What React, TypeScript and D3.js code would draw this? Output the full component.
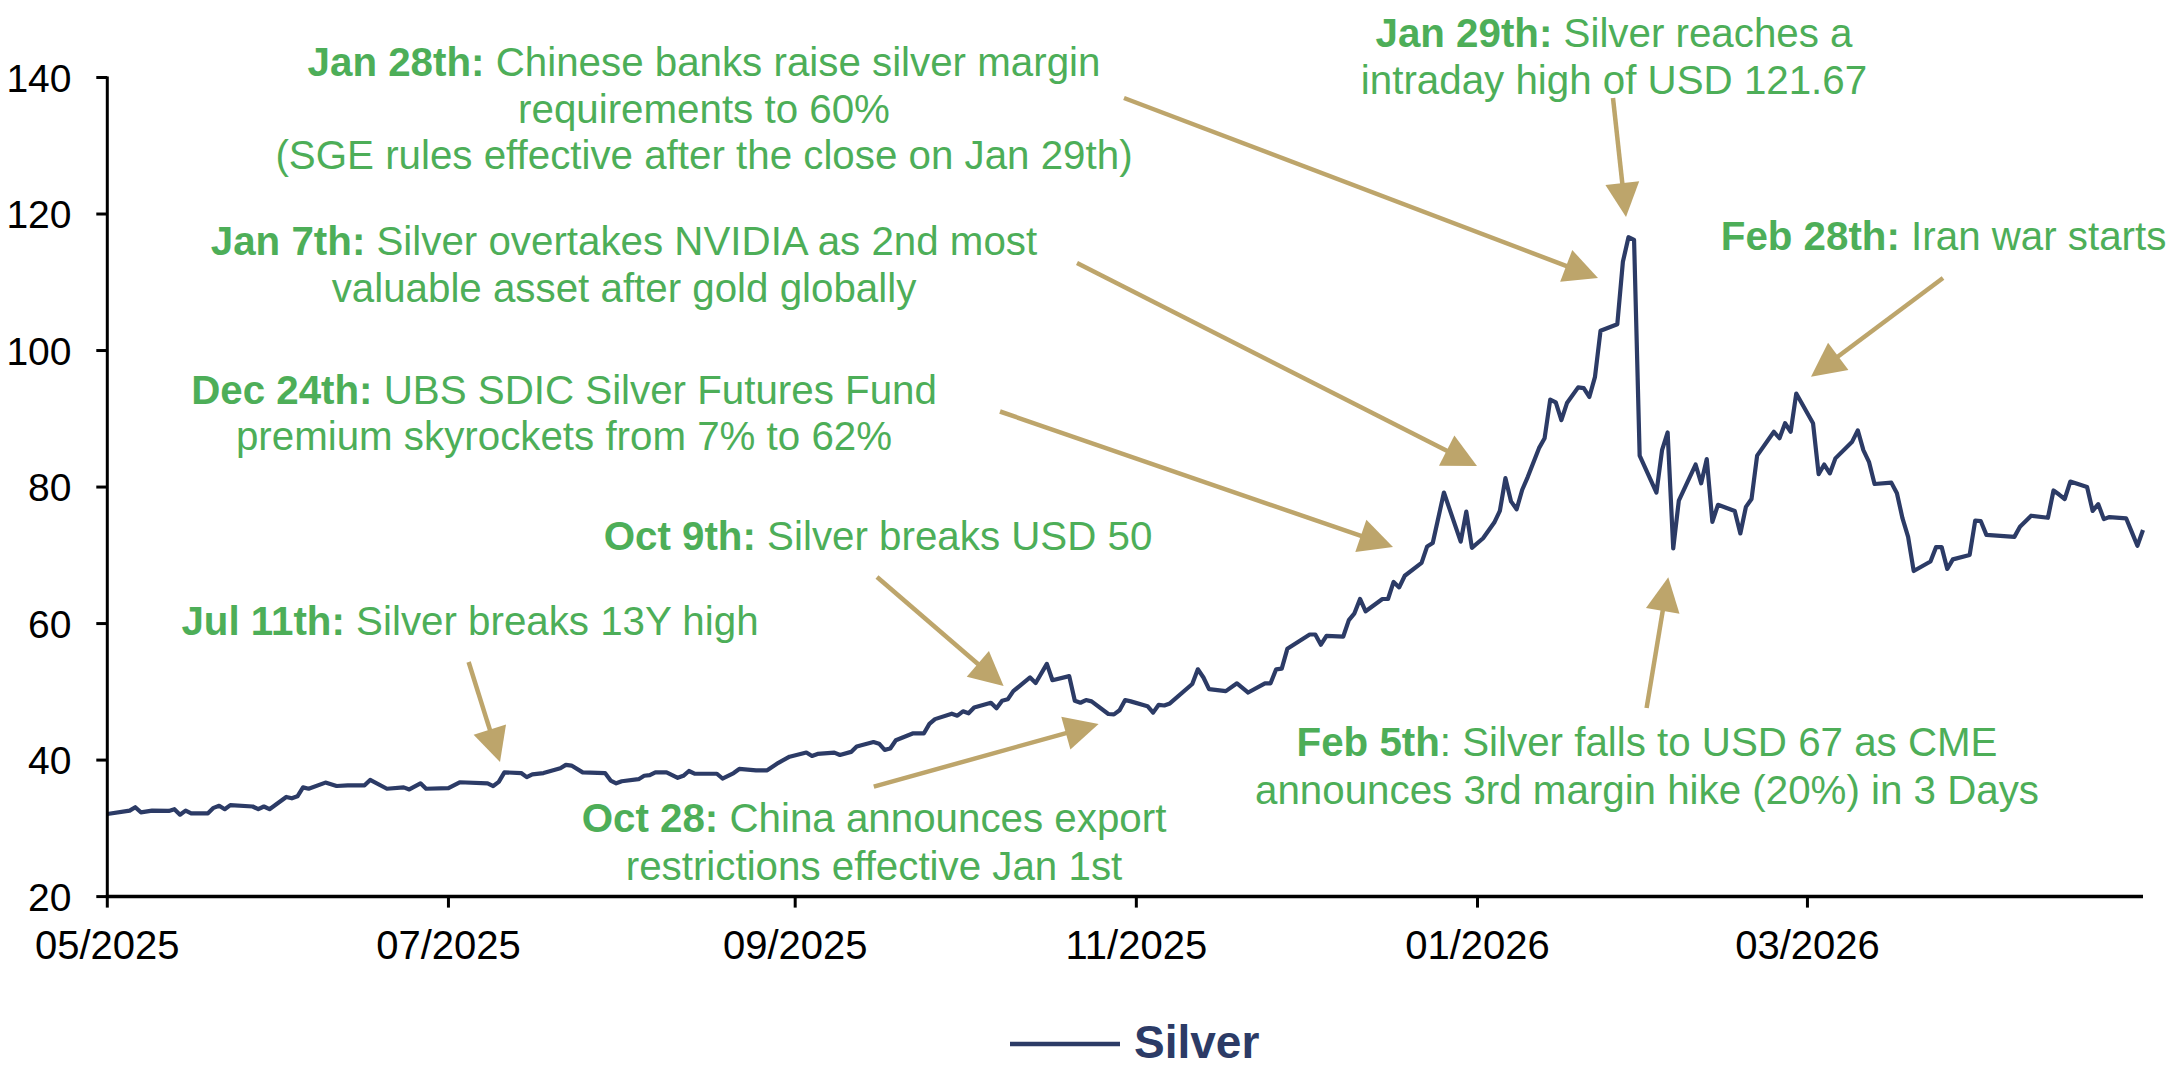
import React from 'react';
import * as d3 from 'd3';

// ---------- data ----------
const dates: string[] = [
  '2025-05-01','2025-05-05','2025-05-06','2025-05-07','2025-05-09','2025-05-12','2025-05-13','2025-05-14','2025-05-15','2025-05-16',
  '2025-05-19','2025-05-20','2025-05-21','2025-05-22','2025-05-23','2025-05-27','2025-05-28','2025-05-29','2025-05-30',
  '2025-06-02','2025-06-03','2025-06-04','2025-06-05','2025-06-06','2025-06-09','2025-06-11','2025-06-13','2025-06-16','2025-06-17',
  '2025-06-20','2025-06-23','2025-06-24','2025-06-26','2025-06-27',
  '2025-07-01','2025-07-03','2025-07-08','2025-07-09','2025-07-10','2025-07-11','2025-07-14','2025-07-15','2025-07-16','2025-07-18',
  '2025-07-21','2025-07-22','2025-07-23','2025-07-25','2025-07-29','2025-07-30','2025-07-31',
  '2025-08-01','2025-08-04','2025-08-05','2025-08-06','2025-08-07','2025-08-09','2025-08-11','2025-08-12','2025-08-13','2025-08-14',
  '2025-08-18','2025-08-19','2025-08-21','2025-08-22','2025-08-25','2025-08-27','2025-08-29','2025-08-31',
  '2025-09-03','2025-09-04','2025-09-05','2025-09-08','2025-09-09','2025-09-11','2025-09-12','2025-09-15','2025-09-16','2025-09-17',
  '2025-09-18','2025-09-19','2025-09-22','2025-09-24','2025-09-25','2025-09-26','2025-09-29','2025-09-30',
  '2025-10-01','2025-10-02','2025-10-03','2025-10-06','2025-10-07','2025-10-08','2025-10-09','2025-10-10','2025-10-13','2025-10-14',
  '2025-10-16','2025-10-17','2025-10-20','2025-10-21','2025-10-22','2025-10-23','2025-10-24','2025-10-27','2025-10-28','2025-10-29',
  '2025-10-30','2025-10-31',
  '2025-11-03','2025-11-04','2025-11-05','2025-11-06','2025-11-07','2025-11-11','2025-11-12','2025-11-13','2025-11-14','2025-11-17',
  '2025-11-19','2025-11-21','2025-11-24','2025-11-25','2025-11-26','2025-11-27','2025-11-28',
  '2025-12-02','2025-12-03','2025-12-04','2025-12-05','2025-12-08','2025-12-09','2025-12-10','2025-12-11','2025-12-12','2025-12-15',
  '2025-12-16','2025-12-17','2025-12-18','2025-12-19','2025-12-22','2025-12-23','2025-12-24','2025-12-26','2025-12-29','2025-12-30',
  '2025-12-31',
  '2026-01-02','2026-01-04','2026-01-05','2026-01-06','2026-01-07','2026-01-08','2026-01-09','2026-01-10','2026-01-12','2026-01-13',
  '2026-01-14','2026-01-15','2026-01-16','2026-01-17','2026-01-19','2026-01-20','2026-01-21','2026-01-22','2026-01-23','2026-01-26',
  '2026-01-27','2026-01-28','2026-01-29','2026-01-30',
  '2026-02-02','2026-02-03','2026-02-04','2026-02-05','2026-02-06','2026-02-09','2026-02-10','2026-02-11','2026-02-12','2026-02-13',
  '2026-02-16','2026-02-17','2026-02-18','2026-02-19','2026-02-20','2026-02-23','2026-02-24','2026-02-25','2026-02-26','2026-02-27',
  '2026-03-02','2026-03-03','2026-03-04','2026-03-05','2026-03-06','2026-03-09','2026-03-10','2026-03-11','2026-03-12','2026-03-13',
  '2026-03-16','2026-03-17','2026-03-18','2026-03-19','2026-03-20','2026-03-23','2026-03-24','2026-03-25','2026-03-26','2026-03-27',
  '2026-03-30','2026-03-31',
  '2026-04-01','2026-04-02','2026-04-07','2026-04-08','2026-04-10','2026-04-13','2026-04-14','2026-04-15','2026-04-16','2026-04-17',
  '2026-04-20','2026-04-21','2026-04-22','2026-04-23','2026-04-24','2026-04-27','2026-04-28','2026-04-29','2026-04-30',
];

const silver: number[] = [
  32.1, 32.6, 33.1, 32.35, 32.6, 32.55, 32.8, 32.0, 32.6, 32.2,
  32.2, 33.0, 33.3, 32.8, 33.4, 33.2, 32.8, 33.2, 32.8,
  34.6, 34.4, 34.7, 36.0, 35.8, 36.7, 36.2, 36.3, 36.3, 37.1,
  35.8, 36.0, 35.7, 36.6, 35.8,
  35.9, 36.75, 36.6, 36.2, 36.8, 38.2, 38.1, 37.5, 37.9, 38.1,
  38.8, 39.3, 39.2, 38.2, 38.1, 37.0, 36.6,
  36.9, 37.2, 37.7, 37.8, 38.2, 38.2, 37.4, 37.7, 38.4, 38.0,
  38.0, 37.3, 38.1, 38.7, 38.5, 38.5, 39.6, 40.5,
  41.1, 40.6, 40.9, 41.1, 40.75, 41.2, 42.0, 42.65, 42.4, 41.5,
  41.7, 42.9, 43.9, 43.9, 45.3, 46.0, 46.8, 46.5,
  47.15, 46.85, 47.7, 48.4, 47.6, 48.7, 48.9, 50.1, 52.1, 51.3,
  54.1, 51.7, 52.3, 48.7, 48.4, 48.8, 48.6, 46.75, 46.7, 47.3,
  48.8, 48.6,
  47.9, 46.95, 48.1, 48.0, 48.3, 51.15, 53.3, 52.1, 50.4, 50.1,
  51.25, 49.9, 51.25, 51.25, 53.3, 53.4, 56.3,
  58.4, 58.4, 56.9, 58.2, 58.1, 60.5, 61.5, 63.6, 61.8, 63.6,
  63.6, 66.1, 65.3, 67.0, 68.9, 71.3, 71.8, 79.2, 72.0, 76.4,
  71.1,
  72.5, 74.8, 76.5, 81.3, 77.9, 76.75, 79.6, 81.5, 85.7, 87.15,
  92.8, 92.4, 89.8, 92.3, 94.6, 94.5, 93.2, 96.1, 102.9, 103.85,
  113.0, 116.6, 116.2, 84.6,
  79.2, 85.4, 88.0, 71.0, 78.0, 83.3, 80.55, 84.1, 74.9, 77.4,
  76.5, 73.2, 77.1, 78.25, 84.6, 88.1, 87.15, 89.35, 88.1, 93.7,
  89.35, 81.9, 83.3, 82.0, 84.2, 86.65, 88.3, 85.4, 83.7, 80.45,
  80.65, 79.1, 75.4, 72.7, 67.7, 69.1, 71.2, 71.2, 68.0, 69.4,
  70.05, 75.1,
  75.0, 73.0, 72.7, 74.2, 75.8, 75.5, 79.5, 78.9, 78.25, 80.8,
  80.0, 76.5, 77.5, 75.3, 75.6, 75.4, 73.4, 71.4, 73.7,
];

const yTicks: number[] = [20, 40, 60, 80, 100, 120, 140];
const xTickDates: string[] = ['2025-05-01', '2025-07-01', '2025-09-01', '2025-11-01', '2026-01-01', '2026-03-01'];
const xTickLabels: string[] = ['05/2025', '07/2025', '09/2025', '11/2025', '01/2026', '03/2026'];
const seriesName = 'Silver';

type Seg = { t: string; b?: boolean };
const annotationLines: Seg[][][] = [
  [[{ t: 'Jan 28th:', b: true }, { t: ' Chinese banks raise silver margin' }], [{ t: 'requirements to 60%' }], [{ t: '(SGE rules effective after the close on Jan 29th)' }]],
  [[{ t: 'Jan 7th:', b: true }, { t: ' Silver overtakes NVIDIA as 2nd most' }], [{ t: 'valuable asset after gold globally' }]],
  [[{ t: 'Dec 24th:', b: true }, { t: ' UBS SDIC Silver Futures Fund' }], [{ t: 'premium skyrockets from 7% to 62%' }]],
  [[{ t: 'Oct 9th:', b: true }, { t: ' Silver breaks USD 50' }]],
  [[{ t: 'Jul 11th:', b: true }, { t: ' Silver breaks 13Y high' }]],
  [[{ t: 'Oct 28:', b: true }, { t: ' China announces export' }], [{ t: 'restrictions effective Jan 1st' }]],
  [[{ t: 'Jan 29th:', b: true }, { t: ' Silver reaches a' }], [{ t: 'intraday high of USD 121.67' }]],
  [[{ t: 'Feb 28th:', b: true }, { t: ' Iran war starts' }]],
  [[{ t: 'Feb 5th', b: true }, { t: ': Silver falls to USD 67 as CME' }], [{ t: 'announces 3rd margin hike (20%) in 3 Days' }]],
];

// layout for annotations (pixel positions: text centre, first baseline, line gap, arrow tail & tip)
const annotationLayout = [
  { cx: 704, y: 76, lh: 46.5, tail: [1124, 98], tip: [1598, 278] },
  { cx: 624, y: 255, lh: 47, tail: [1077, 263], tip: [1477, 466] },
  { cx: 564, y: 404, lh: 46, tail: [1000, 411.5], tip: [1393, 547] },
  { cx: 878, y: 550, lh: 46, tail: [877, 577], tip: [1003.6, 686] },
  { cx: 470, y: 635, lh: 46, tail: [468.6, 662], tip: [500, 762] },
  { cx: 874, y: 832, lh: 47.5, tail: [873.8, 786.7], tip: [1098.6, 724] },
  { cx: 1614, y: 46.5, lh: 47, tail: [1613, 98], tip: [1626, 217] },
  { cx: 1943.6, y: 250.3, lh: 46, tail: [1943, 278], tip: [1811, 376.7] },
  { cx: 1647, y: 756, lh: 48, tail: [1646.6, 708], tip: [1668.3, 577.3] },
];

const W = 2178;
const H = 1074;
const FONT = '"Liberation Sans", Arial, Helvetica, sans-serif';
const NAVY = '#2c3b66';
const GREEN = '#4dae58';
const TAN = '#bda56b';

const parse = d3.utcParse('%Y-%m-%d');

function Arrow({ tail, tip }: { tail: number[]; tip: number[] }) {
  const dx = tip[0] - tail[0];
  const dy = tip[1] - tail[1];
  const len = Math.hypot(dx, dy);
  const ux = dx / len;
  const uy = dy / len;
  const headL = 34;
  const headW = 17;
  const bx = tip[0] - ux * headL;
  const by = tip[1] - uy * headL;
  const px = -uy;
  const py = ux;
  const pts = [
    [tip[0], tip[1]],
    [bx + px * headW, by + py * headW],
    [bx - px * headW, by - py * headW],
  ];
  return (
    <g>
      <line x1={tail[0]} y1={tail[1]} x2={bx + ux * 4} y2={by + uy * 4} stroke={TAN} strokeWidth={4.5} />
      <polygon points={pts.map((p) => p.join(',')).join(' ')} fill={TAN} />
    </g>
  );
}

export default function App() {
  const x0 = 107.3;
  const x1 = 2143;
  const yTop = 77.5;
  const yBot = 896.6;

  const x = d3.scaleUtc().domain([parse('2025-05-01')!, parse('2026-04-30')!]).range([x0, x1]);
  const y = d3.scaleLinear().domain([20, 140]).range([yBot, yTop]);

  const points = dates.map((d, i) => ({ d: parse(d)!, v: silver[i] }));
  const path = d3
    .line<{ d: Date; v: number }>()
    .x((p) => x(p.d))
    .y((p) => y(p.v))(points) as string;

  return (
    <svg width={W} height={H} style={{ position: 'absolute', left: 0, top: 0, background: '#fff' }} fontFamily={FONT}>
      <rect x={0} y={0} width={W} height={H} fill="#fff" />

      {/* annotations */}
      {annotationLines.map((lines, i) => {
        const L = annotationLayout[i];
        return (
          <g key={'a' + i}>
            {lines.map((segs, j) => (
              <text key={j} x={L.cx} y={L.y + j * L.lh} textAnchor="middle" fontSize={40.3} fill={GREEN}>
                {segs.map((s, k) => (
                  <tspan key={k} fontWeight={s.b ? 'bold' : 'normal'}>
                    {s.t}
                  </tspan>
                ))}
              </text>
            ))}
            <Arrow tail={L.tail} tip={L.tip} />
          </g>
        );
      })}

      {/* series */}
      <path d={path} fill="none" stroke={NAVY} strokeWidth={4.2} strokeLinejoin="round" />

      {/* y axis */}
      <line x1={x0} x2={x0} y1={yTop - 1} y2={yBot} stroke="#000" strokeWidth={3} />
      {yTicks.map((t) => (
        <g key={'y' + t}>
          <line x1={x0 - 11} x2={x0} y1={y(t)} y2={y(t)} stroke="#000" strokeWidth={3} />
          <text x={71.5} y={y(t)} dy="0.36em" textAnchor="end" fontSize={39} fill="#000">
            {t}
          </text>
        </g>
      ))}

      {/* x axis */}
      <line x1={x0 - 1.5} x2={x1} y1={yBot} y2={yBot} stroke="#000" strokeWidth={3.5} />
      {xTickDates.map((d, i) => {
        const xp = x(parse(d)!);
        return (
          <g key={'x' + d}>
            <line x1={xp} x2={xp} y1={yBot} y2={yBot + 11} stroke="#000" strokeWidth={3} />
            <text x={xp} y={959} textAnchor="middle" fontSize={40} fill="#000">
              {xTickLabels[i]}
            </text>
          </g>
        );
      })}

      {/* legend */}
      <line x1={1010} x2={1120} y1={1044} y2={1044} stroke={NAVY} strokeWidth={4.5} />
      <text x={1134} y={1058} fontSize={46} fontWeight="bold" fill={NAVY}>
        {seriesName}
      </text>
    </svg>
  );
}
